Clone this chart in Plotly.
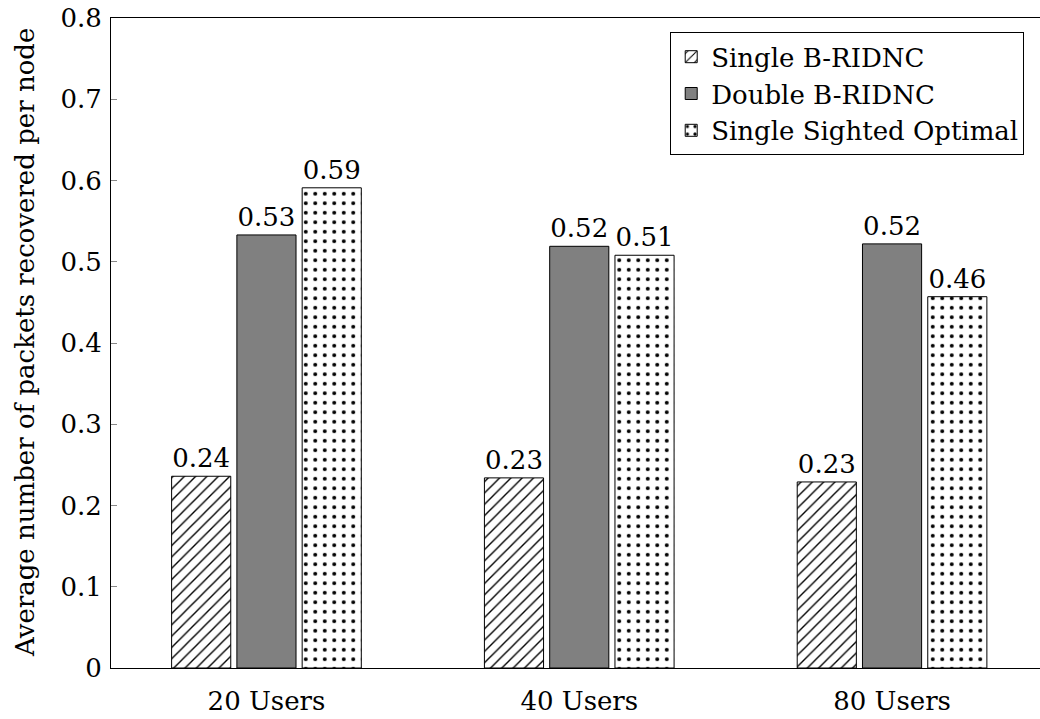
import plotly.graph_objects as go

# Data
categories = ["20 Users", "40 Users", "80 Users"]
single_bridnc = [0.236, 0.234, 0.229]
double_bridnc = [0.533, 0.519, 0.522]
single_sighted_optimal = [0.591, 0.508, 0.457]
series_names = ["Single B-RIDNC", "Double B-RIDNC", "Single Sighted Optimal"]
y_ticks = [0, 0.1, 0.2, 0.3, 0.4, 0.5, 0.6, 0.7, 0.8]
y_title = "Average number of packets recovered per node"

FONT = "DejaVu Serif"
FS = 26

fig = go.Figure()

styles = [
    dict(color="white", pattern=dict(shape="/", fgcolor="black", bgcolor="white",
                                     fgopacity=1, size=8, solidity=0.17)),
    dict(color="#808080"),
    dict(color="white", pattern=dict(shape=".", fgcolor="black", bgcolor="white",
                                     fgopacity=1, size=9.5, solidity=0.14)),
]

for name, vals, st in zip(series_names, [single_bridnc, double_bridnc, single_sighted_optimal], styles):
    marker = dict(color=st["color"], line=dict(color="black", width=1))
    if "pattern" in st:
        marker["pattern"] = st["pattern"]
    fig.add_trace(go.Bar(
        x=categories, y=vals, name=name, marker=marker,
        texttemplate="%{y:.2f}", textposition="outside",
        textfont=dict(family=FONT, size=FS, color="black"),
        cliponaxis=False,
    ))

fig.update_layout(
    width=1040, height=719,
    margin=dict(l=111, r=0, t=18, b=51),
    paper_bgcolor="white", plot_bgcolor="white",
    barmode="group", bargap=0.374, bargroupgap=0.094,
    font=dict(family=FONT, size=FS, color="black"),
    showlegend=True,
    legend=dict(
        x=0.983, y=0.978, xanchor="right", yanchor="top",
        bordercolor="black", borderwidth=1, bgcolor="white",
        font=dict(family=FONT, size=FS, color="black"),
        tracegroupgap=0,
    ),
    annotations=[dict(
        text=y_title, textangle=-90, showarrow=False,
        xref="paper", yref="paper", x=0, y=0.5,
        xanchor="center", yanchor="middle", xshift=-86,
        font=dict(family=FONT, size=FS, color="black"),
    )],
)

fig.update_xaxes(
    range=[-0.497, 2.473],
    showline=True, linecolor="black", linewidth=1, mirror=True,
    ticks="", showgrid=False, zeroline=False, ticklabelstandoff=10,
    tickfont=dict(family=FONT, size=FS, color="black"),
)
fig.update_yaxes(
    range=[0, 0.8], tickvals=y_ticks, ticktext=[f"{v:g}" for v in y_ticks],
    showline=True, linecolor="black", linewidth=1, mirror=False,
    ticks="inside", ticklen=6, tickcolor="#888888", tickwidth=1,
    showgrid=False, zeroline=False, ticklabelstandoff=3,
    tickfont=dict(family=FONT, size=FS, color="black"),
)

fig.write_html("out.html")
